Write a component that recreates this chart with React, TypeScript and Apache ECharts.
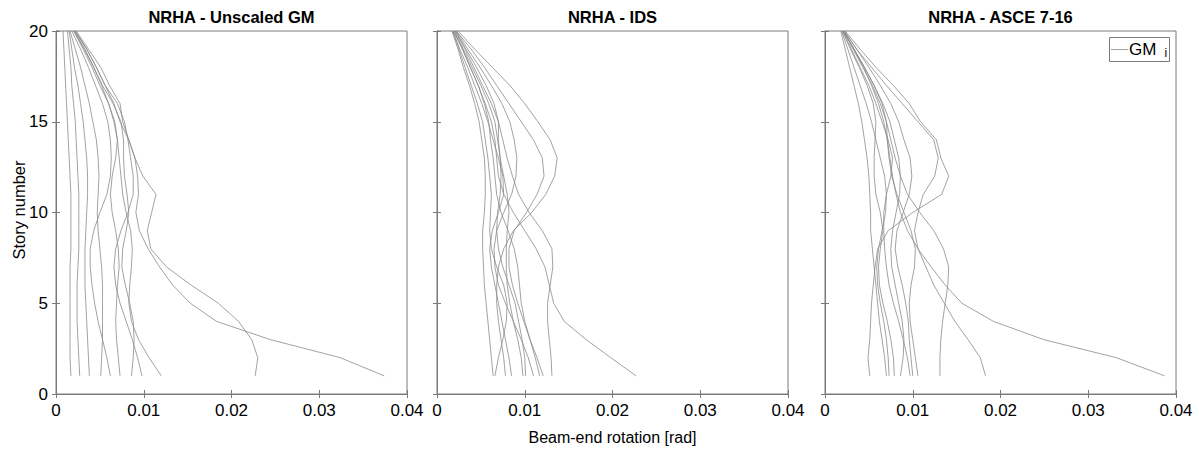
import React, { useEffect, useRef } from 'react';
import * as echarts from 'echarts';

// Story numbers (bottom to top)
const STORIES = [1, 2, 3, 4, 5, 6, 7, 8, 9, 10, 11, 12, 13, 14, 15, 16, 17, 18, 19, 20];
const X_TICKS = [0, 0.01, 0.02, 0.03, 0.04];
const Y_TICKS = [0, 5, 10, 15, 20];
const MRAD = 0.001; // values below are in 1e-3 rad

// NRHA - Unscaled GM (each array: story 1 .. story 20, in 1e-3 rad)
const UNSCALED_GM = [
  [1.7, 1.6, 1.6, 1.6, 1.6, 1.6, 1.6, 1.7, 1.7, 1.7, 1.7, 1.6, 1.5, 1.4, 1.3, 1.2, 1.1, 1.0, 0.9, 0.8],
  [2.7, 2.6, 2.5, 2.4, 2.4, 2.4, 2.5, 2.6, 2.6, 2.6, 2.6, 2.5, 2.4, 2.3, 2.2, 2.0, 1.8, 1.7, 1.5, 1.3],
  [3.8, 3.7, 3.6, 3.5, 3.4, 3.3, 3.3, 3.3, 3.4, 3.5, 3.6, 3.6, 3.5, 3.3, 3.1, 2.8, 2.5, 2.1, 1.8, 1.5],
  [5.1, 5.2, 5.3, 5.3, 5.3, 5.3, 5.2, 5.0, 4.8, 4.7, 4.8, 4.9, 4.8, 4.6, 4.2, 3.8, 3.3, 2.8, 2.2, 1.6],
  [6.2, 5.8, 5.3, 4.8, 4.4, 4.1, 3.9, 3.9, 4.3, 5.0, 5.8, 6.2, 6.3, 6.2, 5.9, 5.3, 4.5, 3.7, 2.8, 1.8],
  [7.3, 7.1, 6.9, 6.8, 6.9, 7.0, 7.2, 7.1, 6.8, 6.4, 6.2, 6.4, 6.8, 7.0, 6.7, 6.0, 5.0, 4.1, 3.1, 2.0],
  [8.6, 8.8, 8.9, 8.8, 8.4, 7.9, 7.5, 7.6, 8.0, 8.3, 8.1, 7.8, 7.7, 7.7, 7.4, 6.5, 5.3, 4.3, 3.3, 2.1],
  [9.8, 9.3, 8.7, 8.0, 7.3, 6.8, 6.6, 6.8, 7.4, 8.2, 8.8, 8.8, 8.5, 8.2, 7.8, 7.0, 5.6, 4.6, 3.5, 2.2],
  [12.0, 10.6, 9.4, 8.6, 8.3, 8.4, 8.6, 8.7, 8.5, 8.0, 7.6, 7.4, 7.2, 7.0, 6.6, 6.0, 5.2, 4.3, 3.2, 2.1],
  [22.7, 23.0, 22.3, 20.8, 18.5, 15.4, 12.6, 10.8, 10.4, 10.9, 11.4, 9.9, 9.0, 8.3, 7.6, 7.3, 6.1, 5.1, 3.7, 2.3],
  [37.4, 32.4, 24.4, 18.3, 15.3, 13.3, 11.8, 10.5, 9.5, 9.1, 9.4, 9.3, 9.0, 8.3, 7.3, 6.6, 5.6, 4.6, 3.5, 2.2],
];

// NRHA - IDS
const IDS_GM = [
  [6.4, 6.2, 6.0, 5.8, 5.6, 5.4, 5.3, 5.2, 5.2, 5.4, 5.5, 5.5, 5.4, 5.1, 4.8, 4.3, 3.7, 3.0, 2.4, 1.7],
  [6.6, 7.0, 7.5, 7.9, 8.0, 7.6, 6.8, 6.2, 6.0, 6.1, 6.2, 6.0, 5.8, 5.5, 5.2, 4.6, 3.9, 3.2, 2.5, 1.8],
  [7.8, 7.6, 7.3, 7.0, 6.8, 6.8, 7.0, 7.6, 8.7, 10.8, 12.4, 13.4, 13.7, 12.9, 11.5, 10.0, 8.3, 6.3, 4.3, 2.4],
  [8.5, 8.2, 7.8, 7.4, 7.0, 6.6, 6.2, 6.0, 6.3, 7.0, 7.6, 7.5, 7.0, 6.4, 5.8, 5.1, 4.3, 3.5, 2.6, 1.8],
  [9.8, 9.6, 9.2, 8.7, 8.3, 8.0, 7.9, 7.9, 8.0, 8.2, 8.0, 7.6, 7.2, 6.9, 6.6, 5.9, 5.0, 4.0, 3.0, 2.0],
  [10.1, 10.0, 9.7, 9.3, 8.9, 8.2, 7.5, 7.0, 6.8, 6.9, 7.2, 7.3, 7.2, 7.0, 7.0, 6.5, 5.6, 4.5, 3.3, 2.1],
  [11.0, 10.4, 9.6, 8.7, 7.8, 7.0, 6.6, 6.5, 6.8, 7.6, 8.5, 9.0, 9.1, 8.8, 8.3, 7.4, 6.2, 4.9, 3.5, 2.2],
  [11.7, 11.2, 10.6, 9.9, 9.2, 8.6, 8.2, 8.2, 8.8, 10.2, 11.4, 12.2, 12.0, 11.0, 9.6, 8.2, 6.8, 5.4, 3.9, 2.2],
  [12.1, 11.4, 10.6, 10.0, 9.6, 9.4, 9.2, 8.8, 8.1, 7.3, 6.8, 6.6, 6.4, 6.1, 5.9, 5.4, 4.7, 3.8, 2.9, 1.9],
  [13.1, 13.0, 12.8, 12.6, 12.6, 12.9, 13.2, 13.1, 12.0, 10.5, 9.3, 8.6, 8.0, 7.5, 7.0, 6.2, 5.2, 4.2, 3.2, 2.1],
  [22.7, 19.8, 17.0, 14.5, 13.3, 12.8, 12.3, 11.3, 10.0, 8.7, 7.6, 7.0, 6.8, 6.6, 6.2, 5.5, 4.7, 3.8, 2.9, 1.9],
];

// NRHA - ASCE 7-16
const ASCE_GM = [
  [5.1, 4.9, 5.1, 5.2, 5.3, 5.5, 5.7, 6.0, 7.2, 10.0, 13.3, 14.1, 13.2, 12.7, 10.9, 9.6, 7.8, 5.8, 4.0, 2.3],
  [7.0, 6.8, 6.5, 6.2, 6.0, 5.8, 5.6, 5.4, 5.2, 5.2, 5.1, 5.0, 4.8, 4.5, 4.2, 3.8, 3.3, 2.8, 2.3, 1.8],
  [7.3, 7.2, 7.0, 6.7, 6.3, 6.0, 5.9, 6.1, 6.5, 6.9, 7.0, 6.8, 6.3, 5.8, 5.3, 4.7, 4.0, 3.3, 2.6, 1.9],
  [7.9, 7.8, 7.5, 7.1, 6.6, 6.2, 6.1, 6.3, 6.6, 6.3, 5.8, 5.6, 5.6, 5.7, 5.8, 5.5, 4.8, 3.9, 2.9, 2.0],
  [8.6, 8.9, 9.0, 8.8, 8.4, 8.0, 7.6, 7.5, 7.7, 8.1, 8.5, 8.6, 8.4, 7.9, 7.4, 6.6, 5.6, 4.5, 3.3, 2.1],
  [9.7, 9.4, 8.9, 8.4, 7.8, 7.3, 7.0, 6.8, 6.7, 6.7, 7.0, 7.5, 7.7, 7.2, 6.5, 5.8, 5.0, 4.0, 3.0, 2.0],
  [10.0, 9.8, 9.6, 9.5, 9.2, 8.8, 8.3, 8.0, 8.2, 8.9, 9.6, 9.9, 9.7, 9.0, 8.4, 7.5, 6.3, 5.0, 3.6, 2.2],
  [10.6, 10.3, 10.0, 9.7, 9.6, 9.8, 10.2, 10.3, 9.8, 9.0, 8.2, 7.6, 7.3, 7.1, 7.0, 6.5, 5.6, 4.5, 3.3, 2.1],
  [13.1, 13.1, 13.2, 13.4, 13.7, 14.0, 14.1, 13.5, 12.4, 10.8, 9.4, 8.6, 8.0, 7.5, 7.0, 6.3, 5.4, 4.3, 3.2, 2.1],
  [18.3, 17.7, 16.3, 14.8, 13.6, 12.4, 11.5, 10.6, 10.2, 10.6, 11.2, 12.5, 12.9, 12.4, 10.6, 8.8, 7.0, 5.3, 3.6, 2.2],
  [38.7, 33.2, 24.9, 19.2, 15.6, 13.7, 12.1, 10.6, 9.4, 8.6, 8.1, 7.7, 7.4, 7.1, 6.7, 6.1, 5.3, 4.4, 3.3, 2.1],
];

const PANEL_TITLES = ['NRHA - Unscaled GM', 'NRHA - IDS', 'NRHA - ASCE 7-16'];
const PANEL_DATA = [UNSCALED_GM, IDS_GM, ASCE_GM];

const FONT = "'Liberation Sans', Arial, Helvetica, sans-serif";
const AXIS_COLOR = '#7a7a7a';
const LINE_COLOR = '#8a8a8a';
const GRID_LEFT = [56, 437, 825];
const GRID_TOP = 31;
const GRID_W = 351;
const GRID_H = 363;

export default function App() {
  const ref = useRef<HTMLDivElement>(null);

  useEffect(() => {
    if (!ref.current) return;
    const chart = echarts.init(ref.current, undefined, { renderer: 'svg' });

    const grids: any[] = [];
    const xAxes: any[] = [];
    const yAxes: any[] = [];
    const series: any[] = [];
    const graphics: any[] = [];

    const xMin = X_TICKS[0];
    const xMax = X_TICKS[X_TICKS.length - 1];
    const xInt = X_TICKS[1] - X_TICKS[0];
    const yMin = Y_TICKS[0];
    const yMax = Y_TICKS[Y_TICKS.length - 1];
    const yInt = Y_TICKS[1] - Y_TICKS[0];

    PANEL_DATA.forEach((curves, p) => {
      grids.push({
        left: GRID_LEFT[p],
        top: GRID_TOP,
        width: GRID_W,
        height: GRID_H,
        show: true,
        borderColor: AXIS_COLOR,
        borderWidth: 1,
        backgroundColor: '#fff',
      });
      const baseX = {
        gridIndex: p,
        type: 'value',
        min: xMin,
        max: xMax,
        interval: xInt,
        splitLine: { show: false },
        axisLine: { show: true, lineStyle: { color: AXIS_COLOR, width: 1 } },
        axisTick: { show: true, inside: true, length: 4, lineStyle: { color: AXIS_COLOR } },
      };
      xAxes.push({
        ...baseX,
        position: 'bottom',
        axisLabel: { show: true, color: '#000', fontSize: 17, margin: 8, fontFamily: FONT },
      });
      xAxes.push({ ...baseX, position: 'top', axisLabel: { show: false } });

      const baseY = {
        gridIndex: p,
        type: 'value',
        min: yMin,
        max: yMax,
        interval: yInt,
        splitLine: { show: false },
        axisLine: { show: true, lineStyle: { color: AXIS_COLOR, width: 1 } },
        axisTick: { show: true, inside: true, length: 4, lineStyle: { color: AXIS_COLOR } },
      };
      yAxes.push({
        ...baseY,
        position: 'left',
        axisLabel: { show: p === 0, color: '#000', fontSize: 17, margin: 8, fontFamily: FONT },
      });
      yAxes.push({ ...baseY, position: 'right', axisLabel: { show: false } });

      curves.forEach((curve, c) => {
        series.push({
          type: 'line',
          name: 'GM ' + (c + 1),
          xAxisIndex: p * 2,
          yAxisIndex: p * 2,
          data: curve.map((v, k) => [v * MRAD, STORIES[k]]),
          showSymbol: false,
          symbol: 'none',
          silent: true,
          lineStyle: { color: LINE_COLOR, width: 0.8 },
        });
      });

      graphics.push({
        type: 'text',
        x: GRID_LEFT[p] + GRID_W / 2,
        y: 17,
        style: {
          text: PANEL_TITLES[p],
          fontSize: 16.5,
          fontWeight: 'bold',
          fontFamily: FONT,
          fill: '#000',
          align: 'center',
          verticalAlign: 'middle',
        },
      });
    });

    // Axis names
    graphics.push({
      type: 'text',
      x: GRID_LEFT[1] + GRID_W / 2,
      y: 437,
      style: {
        text: 'Beam-end rotation [rad]',
        fontSize: 16,
        fontFamily: FONT,
        fill: '#000',
        align: 'center',
        verticalAlign: 'middle',
      },
    });
    graphics.push({
      type: 'text',
      x: 19,
      y: 210,
      rotation: Math.PI / 2,
      style: {
        text: 'Story number',
        fontSize: 16.5,
        fontFamily: FONT,
        fill: '#000',
        align: 'center',
        verticalAlign: 'middle',
      },
    });

    // Legend box (panel 3)
    graphics.push({
      type: 'rect',
      shape: { x: 1109.5, y: 37.5, width: 60, height: 24 },
      style: { fill: '#fff', stroke: AXIS_COLOR, lineWidth: 1 },
      z: 10,
    });
    graphics.push({
      type: 'line',
      shape: { x1: 1111, y1: 49.5, x2: 1128, y2: 49.5 },
      style: { stroke: LINE_COLOR, lineWidth: 0.8 },
      z: 11,
    });
    graphics.push({
      type: 'text',
      x: 1129,
      y: 49.5,
      z: 11,
      style: {
        text: 'GM',
        fontSize: 17,
        fontFamily: FONT,
        fill: '#000',
        align: 'left',
        verticalAlign: 'middle',
      },
    });
    graphics.push({
      type: 'text',
      x: 1164.5,
      y: 53,
      z: 11,
      style: {
        text: 'i',
        fontSize: 12,
        fontFamily: FONT,
        fill: '#000',
        align: 'left',
        verticalAlign: 'middle',
      },
    });

    chart.setOption({
      animation: false,
      backgroundColor: '#fff',
      grid: grids,
      xAxis: xAxes,
      yAxis: yAxes,
      series,
      graphic: graphics,
    });

    return () => {
      chart.dispose();
    };
  }, []);

  return (
    <div
      ref={ref}
      style={{ position: 'fixed', left: 0, top: 0, width: 1199, height: 452, background: '#fff' }}
    />
  );
}
